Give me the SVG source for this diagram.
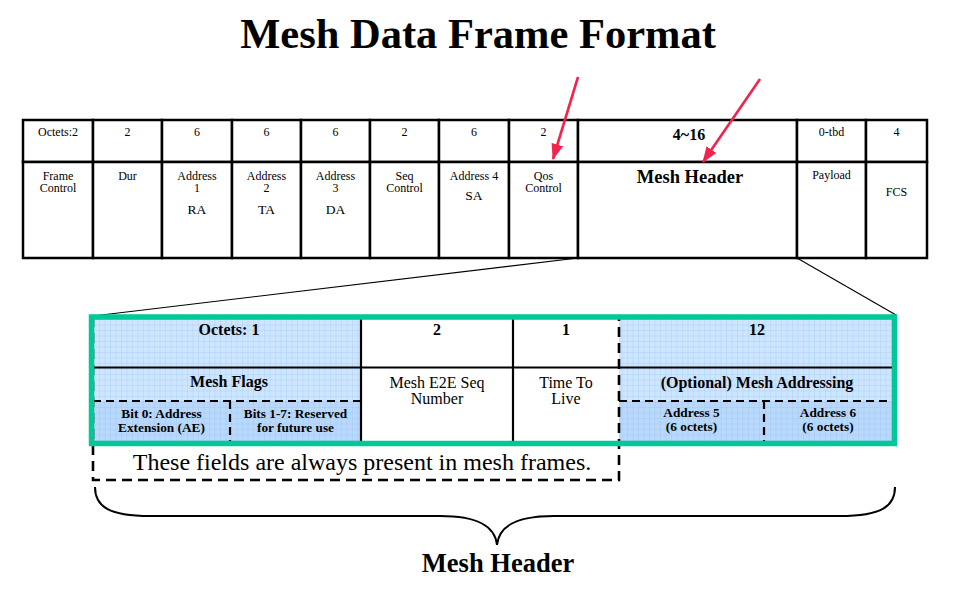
<svg xmlns="http://www.w3.org/2000/svg" width="971" height="591" viewBox="0 0 971 591">
<style>
  text { font-family: "Liberation Serif", "DejaVu Serif", serif; fill: #000; text-anchor: middle; }
  .s { font-size: 12px; }
  .m { font-size: 13.5px; }
  .b16 { font-size: 16px; font-weight: bold; }
  .b13 { font-size: 13.3px; font-weight: bold; }
  .r16 { font-size: 16px; }
  .cell { fill: #fff; stroke: #000; stroke-width: 2.5; }
  .line { stroke: #000; stroke-width: 2.2; fill: none; }
  .dash { stroke: #000; stroke-width: 2.2; fill: none; stroke-dasharray: 8 5; }
  .bdash { stroke: #000; stroke-width: 2.6; fill: none; stroke-dasharray: 10 6; }
  .red { stroke: #f0244c; stroke-width: 2.6; fill: none; }
  .thin { stroke: #000; stroke-width: 1.1; fill: none; }
</style>
<defs>
  <pattern id="grid" width="5.5" height="5.5" patternUnits="userSpaceOnUse">
    <rect width="5.5" height="5.5" fill="#cde5ff"/>
    <path d="M0 0H5.5M0 0V5.5" stroke="#a5cdf6" stroke-width="0.8"/>
  </pattern>
  <pattern id="grid2" width="5.5" height="5.5" patternUnits="userSpaceOnUse">
    <rect width="5.5" height="5.5" fill="#b9d8fb"/>
    <path d="M0 0H5.5M0 0V5.5" stroke="#9dc8f3" stroke-width="0.8"/>
  </pattern>
  <marker id="ah" markerUnits="userSpaceOnUse" markerWidth="16" markerHeight="12" refX="15" refY="6" orient="auto">
    <path d="M0 0L16 6L0 12Z" fill="#f0244c"/>
  </marker>
</defs>
<rect width="971" height="591" fill="#fff"/>

<text id="title" x="478" y="48" style="font-size:42.5px;font-weight:bold">Mesh Data Frame Format</text>

<g id="top-table">
  <g id="f-framecontrol">
    <rect class="cell" x="23" y="120" width="70" height="42"/>
    <rect class="cell" x="23" y="162" width="70" height="96"/>
    <text class="s" x="58" y="136">Octets:2</text>
    <text class="s" x="58" y="179.5">Frame</text>
    <text class="s" x="58" y="192">Control</text>
  </g>
  <g id="f-dur">
    <rect class="cell" x="93" y="120" width="69" height="42"/>
    <rect class="cell" x="93" y="162" width="69" height="96"/>
    <text class="s" x="127.5" y="136">2</text>
    <text class="s" x="127.5" y="179.5">Dur</text>
  </g>
  <g id="f-addr1">
    <rect class="cell" x="162" y="120" width="70" height="42"/>
    <rect class="cell" x="162" y="162" width="70" height="96"/>
    <text class="s" x="197" y="136">6</text>
    <text class="s" x="197" y="179.5">Address</text>
    <text class="s" x="197" y="192">1</text>
    <text class="m" x="197" y="214">RA</text>
  </g>
  <g id="f-addr2">
    <rect class="cell" x="232" y="120" width="69" height="42"/>
    <rect class="cell" x="232" y="162" width="69" height="96"/>
    <text class="s" x="266.5" y="136">6</text>
    <text class="s" x="266.5" y="179.5">Address</text>
    <text class="s" x="266.5" y="192">2</text>
    <text class="m" x="266.5" y="214">TA</text>
  </g>
  <g id="f-addr3">
    <rect class="cell" x="301" y="120" width="69" height="42"/>
    <rect class="cell" x="301" y="162" width="69" height="96"/>
    <text class="s" x="335.5" y="136">6</text>
    <text class="s" x="335.5" y="179.5">Address</text>
    <text class="s" x="335.5" y="192">3</text>
    <text class="m" x="335.5" y="214">DA</text>
  </g>
  <g id="f-seq">
    <rect class="cell" x="370" y="120" width="69" height="42"/>
    <rect class="cell" x="370" y="162" width="69" height="96"/>
    <text class="s" x="404.5" y="136">2</text>
    <text class="s" x="404.5" y="179.5">Seq</text>
    <text class="s" x="404.5" y="192">Control</text>
  </g>
  <g id="f-addr4">
    <rect class="cell" x="439" y="120" width="70" height="42"/>
    <rect class="cell" x="439" y="162" width="70" height="96"/>
    <text class="s" x="474" y="136">6</text>
    <text class="s" x="474" y="179.5">Address 4</text>
    <text class="m" x="474" y="200">SA</text>
  </g>
  <g id="f-qos">
    <rect class="cell" x="509" y="120" width="69" height="42"/>
    <rect class="cell" x="509" y="162" width="69" height="96"/>
    <text class="s" x="543.5" y="136">2</text>
    <text class="s" x="543.5" y="179.5">Qos</text>
    <text class="s" x="543.5" y="192">Control</text>
  </g>
  <g id="f-meshheader">
    <rect class="cell" x="578" y="120" width="219" height="42"/>
    <rect class="cell" x="578" y="162" width="219" height="96"/>
    <text class="b16" x="689" y="140">4~16</text>
    <text x="690" y="183" style="font-size:18.5px;font-weight:bold">Mesh Header</text>
  </g>
  <g id="f-payload">
    <rect class="cell" x="797" y="120" width="69" height="42"/>
    <rect class="cell" x="797" y="162" width="69" height="96"/>
    <text class="s" x="831.5" y="136">0-tbd</text>
    <text class="s" x="831.5" y="179">Payload</text>
  </g>
  <g id="f-fcs">
    <rect class="cell" x="866" y="120" width="61" height="42"/>
    <rect class="cell" x="866" y="162" width="61" height="96"/>
    <text class="s" x="896.5" y="136">4</text>
    <text class="s" x="896.5" y="196">FCS</text>
  </g>
</g>

<g id="connectors">
  <line class="thin" x1="578" y1="258" x2="93" y2="316"/>
  <line class="thin" x1="797" y1="258" x2="896" y2="315"/>
  <line class="red" x1="578" y1="77" x2="553" y2="159" marker-end="url(#ah)"/>
  <line class="red" x1="760" y1="79" x2="703" y2="162" marker-end="url(#ah)"/>
</g>

<g id="mesh-header-detail">
  <g id="n-meshflags">
    <rect x="93" y="317" width="268" height="84" fill="url(#grid)"/>
    <rect x="93" y="401" width="268" height="41" fill="url(#grid2)"/>
    <text class="b16" x="229" y="335">Octets: 1</text>
    <text class="b16" x="229" y="387">Mesh Flags</text>
    <path class="dash" d="M93 401H361"/>
    <path class="dash" d="M230 401V442"/>
    <text class="b13" x="161.5" y="418">Bit 0: Address</text>
    <text class="b13" x="161.5" y="432">Extension (AE)</text>
    <text class="b13" x="295.5" y="418">Bits 1-7: Reserved</text>
    <text class="b13" x="295.5" y="432">for future use</text>
  </g>
  <g id="n-e2eseq">
    <text class="b16" x="437" y="335">2</text>
    <text class="r16" x="437" y="388">Mesh E2E Seq</text>
    <text class="r16" x="437" y="404">Number</text>
  </g>
  <g id="n-ttl">
    <text class="b16" x="566" y="335">1</text>
    <text class="r16" x="566" y="388">Time To</text>
    <text class="r16" x="566" y="404">Live</text>
  </g>
  <g id="n-meshaddressing">
    <rect x="619" y="317" width="275" height="84" fill="url(#grid)"/>
    <rect x="619" y="401" width="275" height="41" fill="url(#grid2)"/>
    <text class="b16" x="757" y="335">12</text>
    <text class="b16" x="757" y="388">(Optional) Mesh Addressing</text>
    <path class="dash" d="M619 401H892"/>
    <path class="dash" d="M764 401V442"/>
    <text class="b13" x="691.5" y="417">Address 5</text>
    <text class="b13" x="691.5" y="431">(6 octets)</text>
    <text class="b13" x="828" y="417">Address 6</text>
    <text class="b13" x="828" y="431">(6 octets)</text>
  </g>
  <path class="line" d="M94 367.5H892M361 317V442M513 317V442"/>
  <g id="n-alwayspresent">
    <path class="bdash" d="M93 317V480H619V317"/>
    <text x="362" y="470" style="font-size:24px">These fields are always present in mesh frames.</text>
  </g>
  <rect id="green-frame" x="91.5" y="317" width="803" height="126.5" fill="none" stroke="#00c896" stroke-width="5.5"/>
</g>

<g id="brace">
  <path d="M95 487C95 506 108 516 150 516L440 516C478 516 495 526 497 545C499 526 516 516 554 516L840 516C882 516 895 506 895 487" fill="none" stroke="#000" stroke-width="2"/>
  <text x="498" y="572" style="font-size:26.5px;font-weight:bold">Mesh Header</text>
</g>
</svg>
